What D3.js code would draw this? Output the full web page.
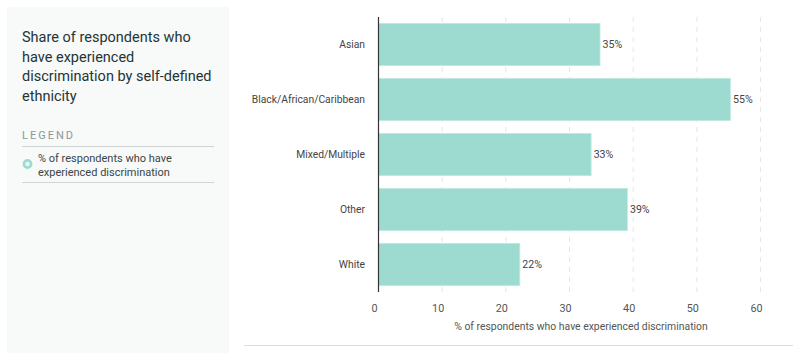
<!DOCTYPE html>
<html>
<head>
<meta charset="utf-8">
<script src="https://cdn.jsdelivr.net/npm/d3@7"></script>
<style>
  body { margin: 0; background: #fff; }
  svg { display: block; font-family: Roboto, "Noto Sans", sans-serif; }
</style>
</head>
<body>
<div id="chart"></div>
<script>
const categories = ["Asian", "Black/African/Caribbean", "Mixed/Multiple", "Other", "White"];
const values = [34.8, 55.3, 33.4, 39.1, 22.2];
const valueLabels = ["35%", "55%", "33%", "39%", "22%"];
const xTicks = [0, 10, 20, 30, 40, 50, 60];
const titleLines = ["Share of respondents who", "have experienced", "discrimination by self-defined", "ethnicity"];
const legendLines = ["% of respondents who have", "experienced discrimination"];

const W = 800, H = 353;
const svg = d3.select("#chart").append("svg").attr("width", W).attr("height", H);

// Left side panel
svg.append("rect").attr("x", 7).attr("y", 7).attr("width", 222).attr("height", H)
  .attr("fill", "#f8f9f9");

svg.append("text").attr("x", 22).attr("y", 42)
  .attr("fill", "#1f3535").style("font-size", "14.5px")
  .selectAll("tspan").data(titleLines).join("tspan")
  .attr("x", 22).attr("dy", (d, i) => i === 0 ? 0 : 19.5).text(d => d);

svg.append("text").attr("x", 22).attr("y", 139)
  .attr("fill", "#8a9898").style("font-size", "11px").style("letter-spacing", "2px")
  .text("LEGEND");

svg.append("line").attr("x1", 22).attr("x2", 214).attr("y1", 146.5).attr("y2", 146.5)
  .attr("stroke", "#cfd4d4");
svg.append("line").attr("x1", 22).attr("x2", 214).attr("y1", 182.5).attr("y2", 182.5)
  .attr("stroke", "#cfd4d4");

svg.append("circle").attr("cx", 27.5).attr("cy", 164).attr("r", 3.6)
  .attr("fill", "#e8f7f4").attr("stroke", "#9ddbd0").attr("stroke-width", 2.6);

svg.append("text").attr("y", 162)
  .attr("fill", "#3a4646").style("font-size", "11px")
  .selectAll("tspan").data(legendLines).join("tspan")
  .attr("x", 38).attr("dy", (d, i) => i === 0 ? 0 : 13.5).text(d => d);

svg.append("text").attr("x", 22).attr("y", 361)
  .attr("fill", "#8a9898").style("font-size", "11px").text("Note");

// Chart
const x = d3.scaleLinear().domain([0, 60]).range([378.5, 760.5]);
const y = d3.scaleBand().domain(categories).range([17, 292])
  .paddingInner(0.23).paddingOuter(0.115);

// Grid lines
svg.append("g").selectAll("line").data(xTicks.filter(d => d > 0)).join("line")
  .attr("x1", d => x(d)).attr("x2", d => x(d))
  .attr("y1", 17).attr("y2", 292)
  .attr("stroke", "#e6e6e6").attr("stroke-width", 1).attr("stroke-dasharray", "5,5");

// Bars
svg.append("g").selectAll("rect").data(values).join("rect")
  .attr("x", x(0))
  .attr("y", (d, i) => y(categories[i]))
  .attr("width", d => x(d) - x(0))
  .attr("height", y.bandwidth())
  .attr("fill", "#9ddbd0").attr("stroke", "#c4ebe3").attr("stroke-width", 0.8);

// Value labels
svg.append("g").selectAll("text").data(values).join("text")
  .attr("x", d => x(d) + 2.5)
  .attr("y", (d, i) => y(categories[i]) + y.bandwidth() / 2)
  .attr("dy", "0.35em")
  .attr("fill", "#444").style("font-size", "10.6px")
  .text((d, i) => valueLabels[i]);

// Category labels
svg.append("g").selectAll("text").data(categories).join("text")
  .attr("x", 365)
  .attr("y", d => y(d) + y.bandwidth() / 2)
  .attr("dy", "0.35em").attr("text-anchor", "end")
  .attr("fill", "#444").style("font-size", "10.3px")
  .text(d => d);

// Y axis line
svg.append("line").attr("x1", x(0)).attr("x2", x(0)).attr("y1", 17).attr("y2", 292)
  .attr("stroke", "#333").attr("stroke-width", 1.2);

// X tick labels
svg.append("g").selectAll("text").data(xTicks).join("text")
  .attr("x", d => x(d) - 4)
  .attr("y", 308).attr("dy", "0.35em").attr("text-anchor", "middle")
  .attr("fill", "#555").style("font-size", "10.8px")
  .text(d => d);

// X axis title
svg.append("text").attr("x", 581).attr("y", 326).attr("dy", "0.35em")
  .attr("text-anchor", "middle")
  .attr("fill", "#555").style("font-size", "10.4px")
  .text("% of respondents who have experienced discrimination");

// Bottom rule
svg.append("line").attr("x1", 244).attr("x2", 793).attr("y1", 345.5).attr("y2", 345.5)
  .attr("stroke", "#dcdcdc");
</script>
</body>
</html>
